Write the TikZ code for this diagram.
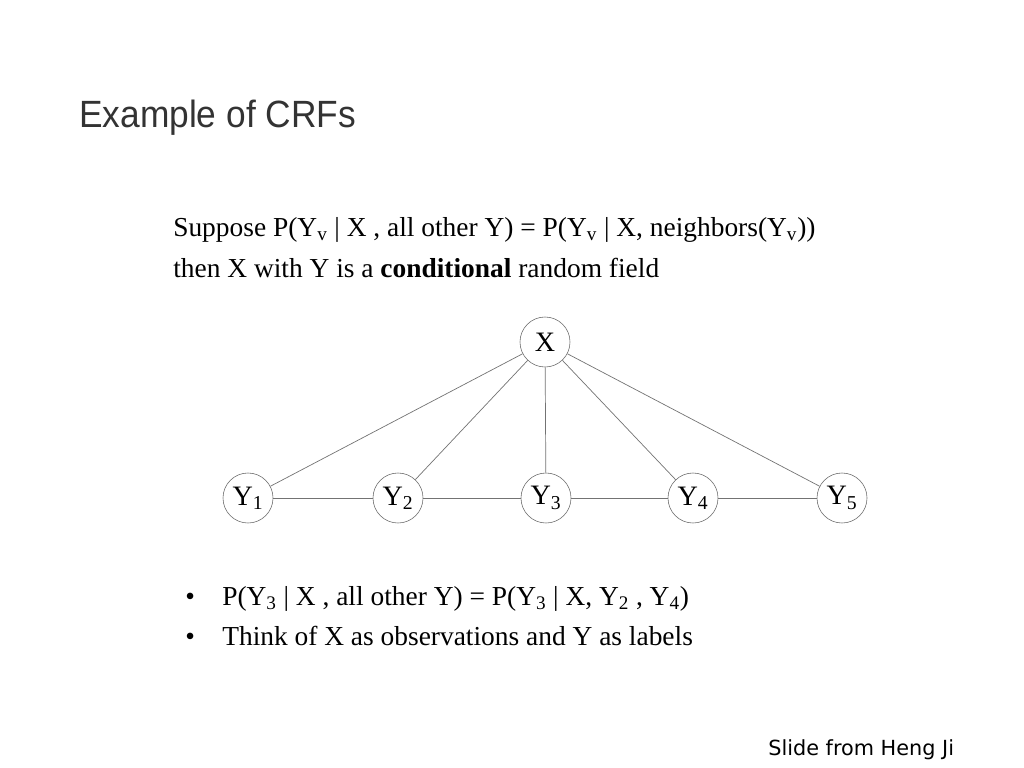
\documentclass[tikz,border=0pt]{standalone}
\usepackage{fontspec}
\setmainfont{Liberation Serif}
\newfontfamily\titlefont{Liberation Sans}
\newfontfamily\notefont{DejaVu Sans}
\usetikzlibrary{positioning}
\newcommand{\sbs}[1]{\textsubscript{#1}}

\begin{document}
\begin{tikzpicture}[x=0.025cm,y=-0.025cm,
	var/.style={draw=black!60,circle,minimum size=1.25cm,inner sep=0pt,font=\fontsize{20}{22}\selectfont},
	edge/.style={draw=black!55,line width=0.5pt},
	txt/.style={anchor=base west,inner sep=0pt,font=\fontsize{19.5}{22}\selectfont}]
	\useasboundingbox (0,0) rectangle (1024,768);
	% title
	\node[anchor=west,inner sep=0pt,font=\titlefont\fontsize{27}{30}\selectfont,text=black!80,xscale=0.93] (title) at (79,118) {Example of CRFs};

	% statement
	\node[txt] (line1) at (173,236) {Suppose P(Y\sbs{v} | X , all other Y) = P(Y\sbs{v} | X, neighbors(Y\sbs{v}))};
	\node[txt] (line2) at (173,277) {then X with Y is a \textbf{conditional} random field};

	% graph
	\node[var] (x) at (545,342) {X};
	\node[var] (y1) at (248,498) {Y\sbs{1}};
	\node[var] (y2) at (398,498) {Y\sbs{2}};
	\node[var] (y3) at (546,498) {Y\sbs{3}};
	\node[var] (y4) at (693,498) {Y\sbs{4}};
	\node[var] (y5) at (842,498) {Y\sbs{5}};
	\foreach \i in {1,...,5}
		\draw[edge] (x) -- (y\i);
	\draw[edge] (y1) -- (y2) -- (y3) -- (y4) -- (y5);

	% bullets
	\node[txt] (b1) at (185,605) {\textbullet};
	\node[txt] (p1) at (222,605) {P(Y\sbs{3} | X , all other Y) = P(Y\sbs{3} | X, Y\sbs{2} , Y\sbs{4})};
	\node[txt] (b2) at (185,645) {\textbullet};
	\node[txt] (p2) at (222,645) {Think of X as observations and Y as labels};

	\node[anchor=west,inner sep=0pt,font=\notefont\fontsize{14.8}{16}\selectfont] (credit) at (768,750) {Slide from Heng Ji};
\end{tikzpicture}
\end{document}
